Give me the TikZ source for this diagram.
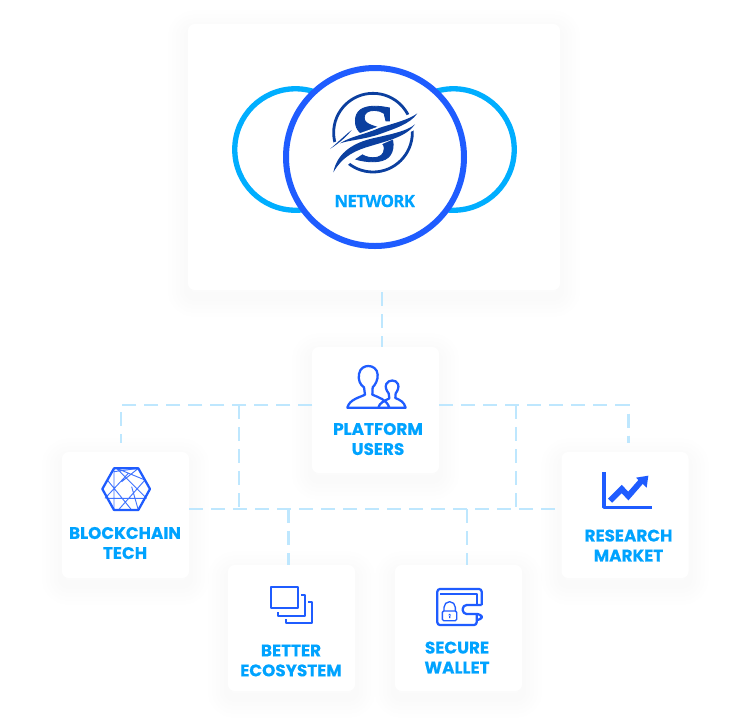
\documentclass[tikz,border=0pt]{standalone}
\usepackage{fontspec}
\newfontfamily\labelfont[BoldFeatures={FakeBold=0.3}]{Poppins}
\newfontfamily\networkfont[LetterSpace=-4,BoldFeatures={FakeBold=0.3}]{Open Sans}
\newfontfamily\logofont[BoldFeatures={FakeBold=1}]{Liberation Serif}
\usetikzlibrary{positioning}
\definecolor{txtblue}{HTML}{00A3FF}
\definecolor{ringblue}{HTML}{00AEFF}
\definecolor{iconblue}{HTML}{1F5CFF}
\definecolor{logoblue}{HTML}{0B3F9F}
\definecolor{dashblue}{HTML}{BEE7FE}
\definecolor{shadowblue}{HTML}{8A9BB5}
\tikzset{
  shadowlayer/.style={preaction={draw=shadowblue,opacity=0.008,line width=#1,transform canvas={yshift=-5pt}}},
  softshadow/.style={shadowlayer=30pt,shadowlayer=24pt,shadowlayer=18pt,shadowlayer=12pt,shadowlayer=6pt},
  card/.style={rectangle,fill=white,rounded corners=5pt,inner sep=0pt,outer sep=0pt,
    minimum width=95.25pt,minimum height=94.5pt,softshadow},
  lbl/.style={text=txtblue,align=center,inner sep=0pt,
    font=\labelfont\bfseries\fontsize{12.6}{15}\selectfont},
  dashline/.style={draw=dashblue,line width=1.9pt,dash pattern=on 10.5pt off 6pt},
  ring/.style={circle,draw=ringblue,line width=4pt,inner sep=0pt,outer sep=0pt,minimum size=91.1pt},
  icon/.style={draw=iconblue,line width=1.7pt,line join=round},
  thinicon/.style={draw=iconblue,line width=0.7pt,opacity=0.85}
}
\begin{document}
\begin{tikzpicture}[x=0.75pt,y=-0.75pt]
    \useasboundingbox (0,0) rectangle (750,726);
    \fill[white] (0,0) rectangle (750,726);

    \node[card,minimum width=279pt,minimum height=199.5pt] (network) at (374,157) {};
    \node[card] (platform) at (375.5,410) {};
    \node[card] (blockchain) at (125.5,515) {};
    \node[card] (research) at (625,515) {};
    \node[card] (ecosystem) at (291.5,628) {};
    \node[card] (wallet) at (458.5,628) {};

    \coordinate (topleft) at (121,405);
    \coordinate (topright) at (628.5,405);
    \coordinate (innerleft) at (239,405);
    \coordinate (innerright) at (516,405);
    \coordinate (busleft) at (239,509);
    \coordinate (busright) at (516,509);
    \coordinate (dropleft) at (288.5,509);
    \coordinate (dropright) at (467,509);
    \coordinate (uplink) at (382,292);

    \draw[dashline] (uplink) -- (uplink |- platform.north);
    \draw[dashline] (platform.west |- topleft) -- (topleft) -- (121,443);
    \draw[dashline] (platform.east |- topright) -- (topright) -- (628.5,443);
    \draw[dashline] (innerleft) -- (busleft);
    \draw[dashline] (innerright) -- (busright);
    \draw[dashline] (blockchain.east |- busleft) -- (research.west |- busright);
    \draw[dashline] (dropleft) -- (dropleft |- ecosystem.north);
    \draw[dashline] (dropright) -- (dropright |- wallet.north);

    \node[ring] (ringleft) at (295.5,149.5) {};
    \node[ring] (ringright) at (453.5,149.5) {};
    \node[circle,draw=iconblue,fill=white,line width=4.5pt,inner sep=0pt,outer sep=0pt,minimum size=133.5pt] (hub) at (375,157) {};

    \begin{scope}[shift={(320,85)},scale=1/3]
      \draw[logoblue,line width=2.1pt] (159,143) circle (118);
      \node[text=logoblue,inner sep=0pt] (logoletter) at (161,147)
        {\logofont\bfseries\fontsize{62}{62}\selectfont S};
      \fill[white] (10,185) .. controls (80,155) and (200,122) .. (305,70)
        -- (300,125) .. controls (240,165) and (110,185) .. (38,290) -- cycle;
      \fill[logoblue] (60,175) .. controls (90,155) and (135,148) .. (180,128)
        .. controls (220,115) and (265,105) .. (292,85)
        .. controls (270,118) and (220,132) .. (180,147)
        .. controls (135,163) and (90,165) .. cycle;
      \fill[logoblue] (40,262) .. controls (50,210) and (90,178) .. (150,162)
        .. controls (200,150) and (260,140) .. (285,118)
        .. controls (260,155) and (200,168) .. (155,182)
        .. controls (110,195) and (70,210) .. cycle;
      \fill[logoblue] (30,192) .. controls (50,175) and (70,155) .. (95,135)
        .. controls (80,155) and (60,172) .. cycle;
    \end{scope}
    \node[inner sep=0pt,text=txtblue,font=\networkfont\bfseries\fontsize{12.6}{15}\selectfont] (networktxt) at (374.7,201) {NETWORK};

    \begin{scope}[shift={(340,360)},scale=1/3]
      \draw[icon] (22,143) .. controls (28,118) and (60,112) .. (75,104)
        -- (72,82) .. controls (60,74) and (54,60) .. (57,42)
        .. controls (60,24) and (74,18) .. (85,18)
        .. controls (98,18) and (112,26) .. (113,44)
        .. controls (114,60) and (106,74) .. (98,82)
        -- (97,104) .. controls (115,112) and (140,118) .. (148,143) -- cycle;
      \draw[icon] (115,143) .. controls (118,128) and (135,122) .. (148,115)
        -- (146,100) .. controls (138,90) and (135,80) .. (139,72)
        .. controls (145,58) and (168,58) .. (174,72)
        .. controls (178,82) and (172,94) .. (167,100)
        -- (166,114) .. controls (180,120) and (192,125) .. (197,143) -- (148,143);
    \end{scope}
    \node[lbl] (platformtxt) at (378,439) {PLATFORM\\USERS};

    \begin{scope}[shift={(50,340)},scale=1/3]
      \draw[icon] (157,447) -- (192,385) -- (265,385) -- (300,447) -- (265,510) -- (192,510) -- cycle;
      \draw[thinicon] (192,385) -- (192,510) (172,475) -- (285,475)
        (192,395) -- (265,385) (205,387) -- (285,420) (265,385) -- (215,425)
        (172,420) -- (245,510) (200,385) -- (290,475) (285,420) -- (205,510)
        (235,400) -- (165,475) (245,440) -- (265,510);
    \end{scope}
    \node[lbl] (blockchaintxt) at (125,543) {BLOCKCHAIN\\TECH};

    \begin{scope}[shift={(220,500)},scale=1/3]
      \draw[icon] (153,262) rectangle (233,325);
      \draw[icon] (243,284) -- (255,284) -- (255,347) -- (175,347) -- (175,335);
      \draw[icon] (265,306) -- (277,306) -- (277,370) -- (197,370) -- (197,358);
    \end{scope}
    \node[lbl] (ecosystemtxt) at (291,660.5) {BETTER\\ECOSYSTEM};

    \begin{scope}[shift={(220,500)},scale=1/3]
      \draw[icon,rounded corners=2pt] (770,342) -- (770,375) -- (652,375) -- (652,267) -- (785,267) -- (785,315);
      \draw[icon] (660,283) -- (770,283) -- (770,315);
      \draw[icon,rounded corners=3pt] (785,315) -- (728,315) -- (728,342) -- (785,342) -- (785,360) -- (770,360);
      \draw[icon,line width=1pt,rounded corners=1pt] (667,333) rectangle (710,362);
      \draw[icon,line width=1pt] (672,333) -- (672,322) arc[start angle=180,end angle=360,radius=17] -- (706,333);
      \fill[iconblue] (689,345) circle (4) (687,345) rectangle (691,354);
    \end{scope}
    \node[lbl] (wallettxt) at (457,657.5) {SECURE\\WALLET};

    \begin{scope}[shift={(500,390)},scale=1/3]
      \draw[icon,line width=2.4pt] (312,247) -- (312,352) -- (455,352);
      \draw[icon,line width=4.4pt,line join=miter] (330,332) -- (365,297) -- (385,318) -- (425,272);
      \fill[iconblue] (408,263) -- (445,257) -- (440,293) -- cycle;
    \end{scope}
    \node[lbl] (researchtxt) at (628.5,545.5) {RESEARCH\\MARKET};
\end{tikzpicture}
\end{document}
